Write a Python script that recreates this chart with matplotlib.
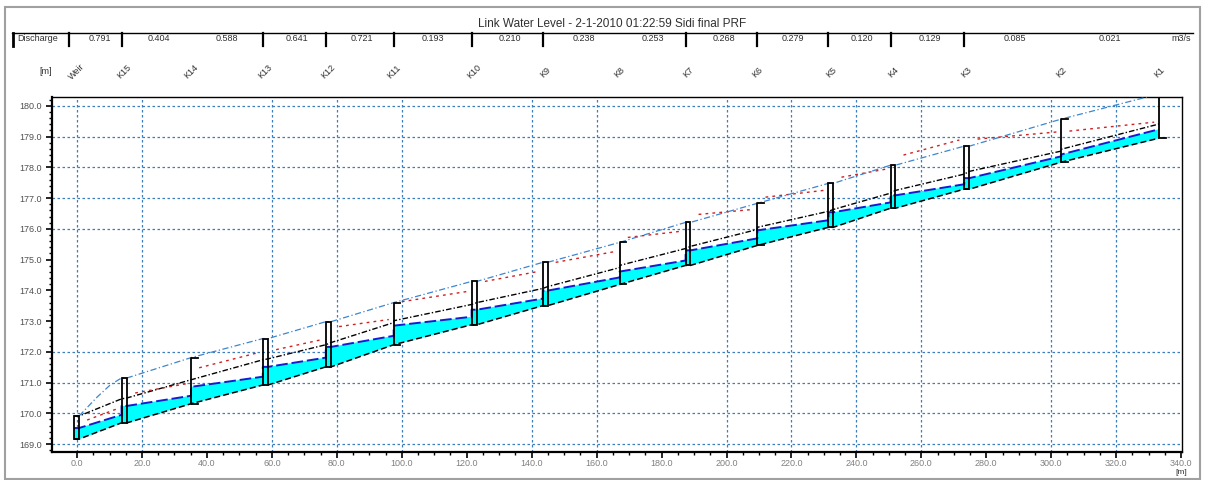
import numpy as np
import matplotlib
matplotlib.use("Agg")
import matplotlib.pyplot as plt
import matplotlib.transforms as mtransforms
from matplotlib.patches import Rectangle

plt.rcParams['font.family'] = ['Liberation Sans', 'DejaVu Sans']

# structures along the canal (chainage in m, levels in m)
nodes = ["Weir", "K15", "K14", "K13", "K12", "K11", "K10", "K9", "K8",
         "K7", "K6", "K5", "K4", "K3", "K2", "K1"]
kind = ["box", "box", "bracket", "box", "box", "bracket", "box", "box", "bracket",
        "box", "bracket", "box", "box", "box", "bracket", "bracket"]
x_left = [-0.9, 13.7, 35.1, 57.2, 76.6, 97.5, 121.5, 143.4, 167.1,
          187.4, 209.5, 231.4, 250.5, 273.2, 303.1, 333.2]
x_right = [0.6, 15.4, 35.1, 58.8, 78.2, 97.5, 123.1, 144.9, 167.1,
           188.9, 209.5, 232.9, 252.0, 274.8, 303.1, 333.2]
bed = [169.16, 169.69, 170.31, 170.92, 171.51, 172.23, 172.88, 173.50, 174.19,
       174.81, 175.46, 176.05, 176.67, 177.29, 178.17, 178.95]
top = [169.91, 171.15, 171.81, 172.43, 172.98, 173.60, 174.29, 174.91, 175.56,
       176.21, 176.83, 177.48, 178.07, 178.69, 179.57, 180.39]
wl_down = [169.52, 169.95, 170.57, 171.19, 171.81, 172.52, 173.14, 173.73, 174.42,
           174.97, 175.69, 176.28, 176.86, 177.45, 178.36, 179.24]
wl_up = [169.52, 170.24, 170.86, 171.51, 172.16, 172.85, 173.37, 173.99, 174.61,
         175.30, 175.95, 176.54, 177.09, 177.65, 178.42, 179.24]
egl_down = [169.91, 170.47, 171.09, 171.74, 172.23, 172.95, 173.54, 174.06, 174.74,
            175.36, 175.98, 176.57, 177.16, 177.78, 178.53, 179.41]
egl_up = [169.91, 170.50, 171.09, 171.77, 172.30, 173.01, 173.60, 174.12, 174.81,
          175.43, 176.05, 176.63, 177.25, 177.87, 178.59, 179.41]
# red dotted level, start / end of each reach (weir->K15 ... K2->K1)
red_start = [169.78, 170.66, 171.48, 172.07, 172.82, 173.63, 174.29, 174.91,
             175.72, 176.47, 177.03, 177.68, 178.40, 178.92, 179.18]
red_end = [170.14, 170.96, 171.97, 172.39, 173.05, 173.96, 174.61, 175.26,
           175.92, 176.63, 177.25, 177.94, 178.89, 179.15, 179.47]
# extra points of the bank line between weir and K15
bank_extra_x = [6.2, 10.2]
bank_extra_y = [170.53, 170.92]

discharge = ["0.791", "0.404", "0.588", "0.641", "0.721", "0.193", "0.210", "0.238",
             "0.253", "0.268", "0.279", "0.120", "0.129", "0.085", "0.021"]
divider_at = ["Weir", "K15", "K13", "K12", "K11", "K10", "K9", "K7", "K6", "K5", "K4", "K3"]

x_ticks = np.arange(0, 341, 20)
x_grid = [0, 20, 60, 80, 100, 140, 160, 200, 220, 240, 260, 300, 320]
y_ticks = np.arange(169, 181, 1)
y_grid = [169, 170, 171, 172, 176, 177, 178, 179, 180]

title = "Link Water Level - 2-1-2010 01:22:59 Sidi final PRF"

fig = plt.figure(figsize=(12.05, 4.8), dpi=100)
ax = fig.add_axes([0.0432, 0.0583, 0.9378, 0.7397])
ax.set_xlim(-7.7, 340.3)
ax.set_ylim(168.74, 180.29)

grid_c = "#3a7ebf"
for gx in x_grid:
    ax.axvline(gx, color=grid_c, ls=(0, (2, 2)), lw=0.9, zorder=0)
for gy in y_grid:
    ax.axhline(gy, color=grid_c, ls=(0, (2, 2)), lw=0.9, zorder=0)

# water body polygon
wx, wy = [], []
for i in range(len(nodes)):
    wx += [x_left[i], x_left[i], x_right[i]]
    wy += [wl_down[i], wl_up[i], wl_up[i]]
bx, by = [], []
for i in range(len(nodes)):
    bx += [x_left[i], x_right[i]]
    by += [bed[i], bed[i]]
ax.fill(wx + bx[::-1], wy + by[::-1], color="#00ffff", lw=0, zorder=1)
ax.plot(wx, wy, color="#1a1ad0", ls=(0, (6, 2)), lw=1.4, zorder=3)
ax.plot(bx, by, color="black", ls=(0, (4, 2)), lw=1.1, zorder=3)

# black dash-dot line
ex, ey = [], []
for i in range(len(nodes)):
    ex += [x_left[i], x_right[i]]
    ey += [egl_down[i], egl_up[i]]
ax.plot(ex, ey, color="black", ls=(0, (4, 1.5, 1, 1.5)), lw=1.0, zorder=3)

# red dotted line per reach
rx, ry = [], []
for i in range(len(red_start)):
    rx += [x_right[i] + 2.5, x_left[i + 1] - 1.5, np.nan]
    ry += [red_start[i], red_end[i], np.nan]
ax.plot(rx, ry, color="#d02020", ls=(0, (2, 3)), lw=1.0, zorder=3)

# bank (top) line
tx = [x_right[0]] + bank_extra_x
ty = [top[0]] + bank_extra_y
for i in range(1, len(nodes)):
    tx += [x_left[i], x_right[i]]
    ty += [top[i], top[i]]
ax.plot(tx[:-1] + [x_left[-1] - 3], ty[:-1] + [top[-1]], color="#3d86d0",
        ls=(0, (5, 2, 1, 2)), lw=0.9, zorder=3)

# structures
for i in range(len(nodes)):
    if kind[i] == "box":
        ax.add_patch(Rectangle((x_left[i], bed[i]), x_right[i] - x_left[i], top[i] - bed[i],
                               fill=False, ec="black", lw=1.3, zorder=4))
    else:
        ax.plot([x_left[i] + 2, x_left[i], x_left[i], x_left[i] + 2],
                [top[i], top[i], bed[i], bed[i]], color="black", lw=1.3, zorder=4)

# axes style
for s in ["left", "bottom"]:
    ax.spines[s].set_linewidth(1.6)
for s in ["top", "right"]:
    ax.spines[s].set_linewidth(1.0)
ax.set_xticks(x_ticks)
ax.set_xticklabels(["%.1f" % v for v in x_ticks], color="#808080")
ax.set_xticks(np.arange(0, 341, 5), minor=True)
ax.set_yticks(y_ticks)
ax.set_yticklabels(["%.1f" % v for v in y_ticks], color="#505050")
ax.set_yticks(np.arange(168.8, 180.3, 0.2), minor=True)
ax.tick_params(axis="both", which="major", labelsize=6.5, length=4, width=1.2, direction="out")
ax.tick_params(axis="both", which="minor", length=2.5, width=1.0, direction="out")
ax.tick_params(axis="x", pad=1)

tr = mtransforms.blended_transform_factory(ax.transData, fig.transFigure)
ax.text(340, 0.016, "[m]", transform=tr, fontsize=6, ha="center", va="center", color="#303030")

# node labels, table and title
for i, name in enumerate(nodes):
    ax.text((x_left[i] + x_right[i]) / 2, 0.85, name, transform=tr, rotation=45,
            fontsize=6.5, ha="center", va="center", color="#303030")
fig.text(0.038, 0.85, "[m]", fontsize=6.5, ha="center", va="center", color="#303030")

fig.text(0.508, 0.95, title, fontsize=8.5, ha="center", va="center", color="#303030")
fig.add_artist(plt.Line2D([0.01, 0.99], [0.931, 0.931], color="black", lw=1.0,
                          transform=fig.transFigure))
fig.add_artist(plt.Line2D([0.011, 0.011], [0.904, 0.931], color="black", lw=2,
                          transform=fig.transFigure))
fig.text(0.014, 0.92, "Discharge", fontsize=6.5, ha="left", va="center", color="#303030")
for name in divider_at:
    i = nodes.index(name)
    xd = -2.5 if name == "Weir" else x_left[i]
    fig.add_artist(plt.Line2D([xd, xd], [0.904, 0.931], color="black", lw=1.6, transform=tr))
for i, q in enumerate(discharge):
    xm = (x_right[i] + x_left[i + 1]) / 2
    ax.text(xm, 0.92, q, transform=tr, fontsize=6.5, ha="center", va="center", color="#303030")
fig.text(0.988, 0.92, "m3/s", fontsize=6.5, ha="right", va="center", color="#303030")

fig.add_artist(Rectangle((0.004, 0.003), 0.992, 0.982, fill=False, ec="#a0a0a0", lw=1.5,
                         transform=fig.transFigure))

fig.savefig("out.png", dpi=100, facecolor="white")
